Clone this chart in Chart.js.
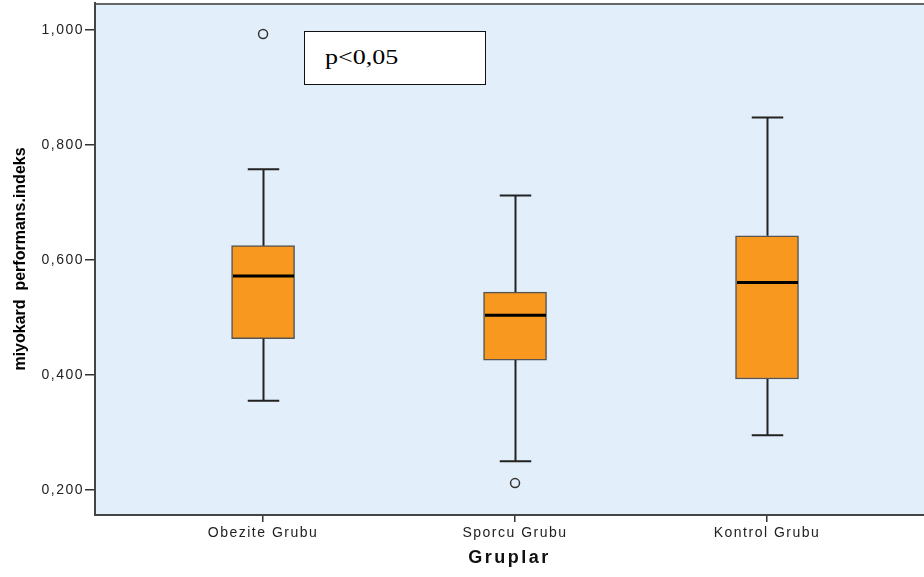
<!DOCTYPE html>
<html><head><meta charset="utf-8">
<script src="https://cdn.jsdelivr.net/npm/chart.js@4.4.1/dist/chart.umd.min.js"></script>
<style>
html,body{margin:0;padding:0;background:#fff;overflow:hidden}
#wrap{position:relative;width:924px;height:577px}
canvas{display:block}
#pbox{position:absolute;left:304px;top:31px;width:182px;height:54px;box-sizing:border-box;border:1.5px solid #111;background:#fff}
#pbox span{position:absolute;left:20px;top:0;line-height:51px;font-family:'Liberation Serif','Times New Roman',serif;font-size:21px;color:#000;transform:scaleX(1.24);transform-origin:left center;white-space:nowrap}
</style></head><body>
<div id="wrap"><canvas id="c" width="924" height="577"></canvas><div id="pbox"><span>p&lt;0,05</span></div></div>
<script>
// ---- data ----
const categories = ['Obezite Grubu', 'Sporcu Grubu', 'Kontrol Grubu'];
const groupIndex = [0, 1, 2];
const whiskerMin = [0.355, 0.250, 0.295];
const q1 = [0.463, 0.426, 0.393];
const median = [0.572, 0.504, 0.561];
const q3 = [0.625, 0.544, 0.642];
const whiskerMax = [0.758, 0.712, 0.848];
const outlierGroup = [0, 1];
const outlierValues = [0.993, 0.212];
const yTicks = [0.2, 0.4, 0.6, 0.8, 1.0];
const yMin = 0.1565, yMax = 1.047;
const xMin = -0.667, xMax = 2.623;

const boxWidth = 63;
const fmt = v => v.toFixed(3).replace('.', ',');
const spacing = { x: { labels: '1.5px', title: '2.5px' }, y: { labels: '1.5px', title: '0px' } };

const boxPlugin = {
  id: 'boxparts',
  beforeDraw(chart) {
    const { ctx, chartArea: a } = chart;
    ctx.save();
    ctx.fillStyle = '#E2EEFA';
    ctx.fillRect(a.left, a.top, a.right - a.left, a.bottom - a.top);
    ctx.strokeStyle = '#666';
    ctx.lineWidth = 2;
    ctx.beginPath();
    ctx.moveTo(a.left, a.top + 1);
    ctx.lineTo(a.right, a.top + 1);
    ctx.stroke();
    ctx.restore();
    for (const id of ['x', 'y']) {
      const s = chart.scales[id];
      if (!s || s._patched) continue;
      s._patched = true;
      const sp = spacing[id];
      const origL = s.drawLabels, origT = s.drawTitle;
      s.drawLabels = function (ca) {
        const c = this.ctx; const prev = c.letterSpacing;
        c.letterSpacing = sp.labels; origL.call(this, ca); c.letterSpacing = prev || '0px';
      };
      s.drawTitle = function (ca) {
        const c = this.ctx; const prev = c.letterSpacing;
        c.letterSpacing = sp.title; origT.call(this, ca); c.letterSpacing = prev || '0px';
      };
    }
  },
  afterDatasetsDraw(chart) {
    const { ctx, scales: { x, y } } = chart;
    const half = boxWidth / 2, cap = boxWidth / 4;
    ctx.save();
    groupIndex.forEach((g, i) => {
      const px = Math.round(x.getPixelForValue(g)) + 0.5;
      const yTop = y.getPixelForValue(whiskerMax[i]);
      const yBot = y.getPixelForValue(whiskerMin[i]);
      ctx.strokeStyle = '#222';
      ctx.lineWidth = 2;
      ctx.beginPath();
      ctx.moveTo(px, y.getPixelForValue(q3[i])); ctx.lineTo(px, yTop);
      ctx.moveTo(px, y.getPixelForValue(q1[i])); ctx.lineTo(px, yBot);
      ctx.moveTo(px - cap, yTop); ctx.lineTo(px + cap, yTop);
      ctx.moveTo(px - cap, yBot); ctx.lineTo(px + cap, yBot);
      ctx.stroke();
      const ym = y.getPixelForValue(median[i]);
      ctx.strokeStyle = '#000';
      ctx.lineWidth = 3;
      ctx.beginPath();
      ctx.moveTo(px - half + 1, ym); ctx.lineTo(px + half - 1, ym);
      ctx.stroke();
    });
    ctx.restore();
  }
};

const tickFont = { family: "'Liberation Sans', Arial, sans-serif", size: 14 };

new Chart(document.getElementById('c'), {
  type: 'bar',
  data: {
    datasets: [
      {
        type: 'bar',
        data: groupIndex.map((g, i) => ({ x: g, y: [q1[i], q3[i]] })),
        backgroundColor: '#F8981F',
        borderColor: '#555',
        borderWidth: 1.5,
        borderSkipped: false,
        barThickness: boxWidth,
        grouped: false
      },
      {
        type: 'scatter',
        data: outlierGroup.map((g, i) => ({ x: g, y: outlierValues[i] })),
        pointStyle: 'circle',
        radius: 4.5,
        borderWidth: 1.5,
        borderColor: '#333',
        backgroundColor: 'rgba(0,0,0,0)'
      }
    ]
  },
  options: {
    responsive: false,
    animation: false,
    events: [],
    layout: { autoPadding: false, padding: { top: 3, left: 0, right: 0, bottom: 0 } },
    plugins: { legend: { display: false }, tooltip: { enabled: false } },
    scales: {
      x: {
        type: 'linear', min: xMin, max: xMax, offset: false,
        afterBuildTicks: s => { s.ticks = groupIndex.map(v => ({ value: v })); },
        afterFit: s => { s.height = 62; s.paddingLeft = 0; s.paddingRight = 0; },
        ticks: { callback: v => categories[v], font: tickFont, color: '#222', padding: 3, maxRotation: 0, autoSkip: false },
        grid: { offset: false, drawOnChartArea: false, drawTicks: true, tickLength: 7, tickColor: '#333', lineWidth: 1.5 },
        border: { display: true, color: '#444', width: 2 },
        title: { display: true, text: 'Gruplar', font: { family: "'Liberation Sans', Arial, sans-serif", size: 18, weight: 'bold' }, color: '#111', padding: { top: 0, bottom: 8 } }
      },
      y: {
        type: 'linear', min: yMin, max: yMax,
        afterBuildTicks: s => { s.ticks = yTicks.map(v => ({ value: v })); },
        afterFit: s => { s.width = 95; s.paddingTop = 0; s.paddingBottom = 0; },
        ticks: { callback: v => fmt(v), font: tickFont, color: '#222', padding: 1 },
        grid: { drawOnChartArea: false, drawTicks: true, tickLength: 10, tickColor: '#333', lineWidth: 1.5 },
        border: { display: true, color: '#444', width: 2 },
        title: { display: true, text: 'miyokard  performans.indeks', font: { family: "'Liberation Sans', Arial, sans-serif", size: 16, weight: 'bold' }, color: '#000', padding: { top: 11, bottom: 0 } }
      }
    }
  },
  plugins: [boxPlugin]
});
</script>
</body></html>
